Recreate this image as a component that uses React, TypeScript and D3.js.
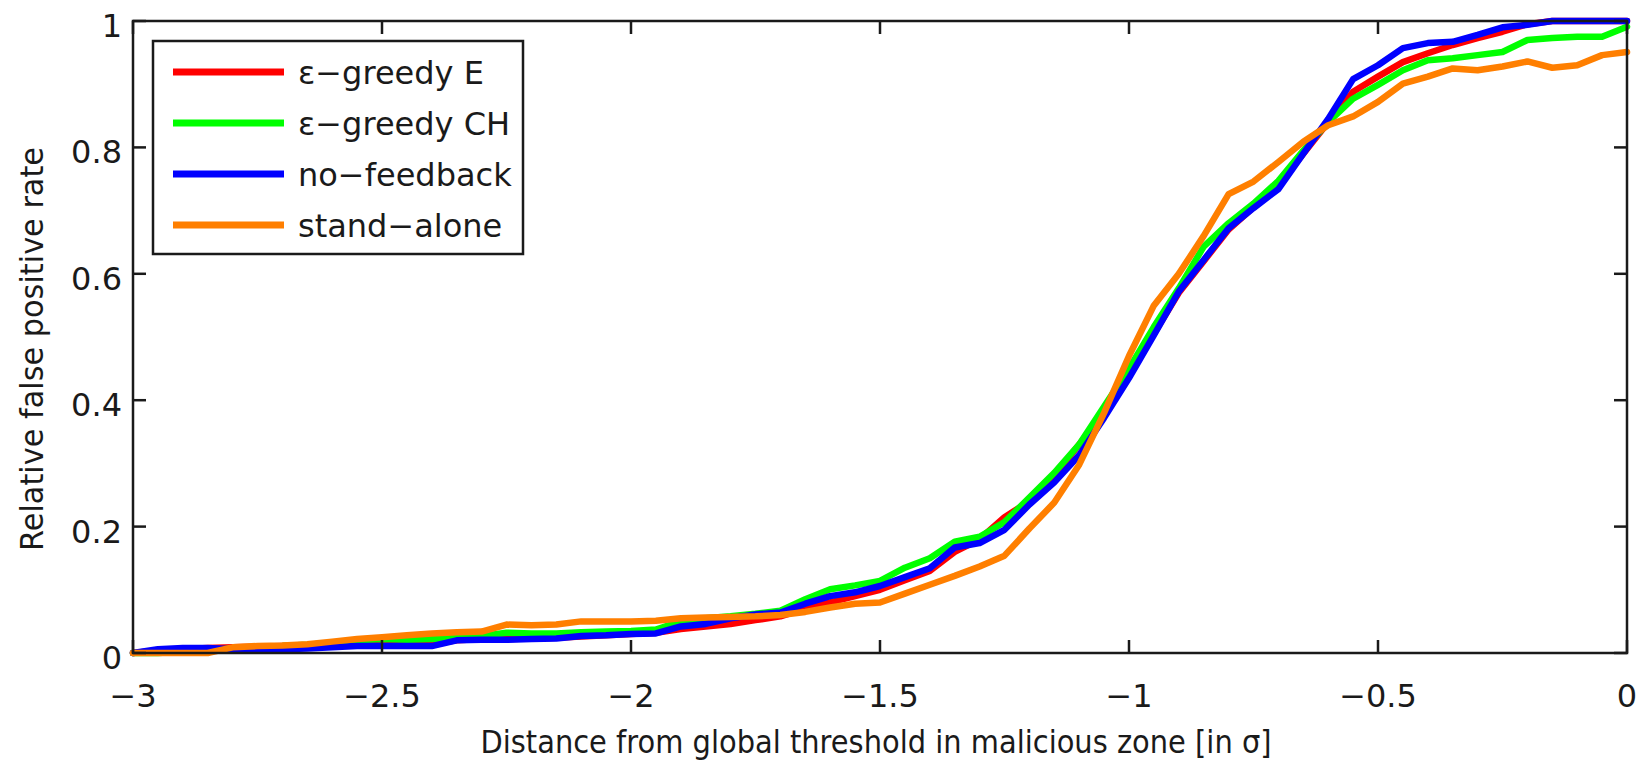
import * as d3 from "d3";

// x positions of the samples (distance in sigma)
const xs = [
  -3.0, -2.95, -2.9, -2.85, -2.8, -2.75, -2.7, -2.65, -2.6, -2.55,
  -2.5, -2.45, -2.4, -2.35, -2.3, -2.25, -2.2, -2.15, -2.1, -2.05,
  -2.0, -1.95, -1.9, -1.85, -1.8, -1.75, -1.7, -1.65, -1.6, -1.55,
  -1.5, -1.45, -1.4, -1.35, -1.3, -1.25, -1.2, -1.15, -1.1, -1.05,
  -1.0, -0.95, -0.9, -0.85, -0.8, -0.75, -0.7, -0.65, -0.6, -0.55,
  -0.5, -0.45, -0.4, -0.35, -0.3, -0.25, -0.2, -0.15, -0.1, -0.05,
  0,
];

const greedyE = [
  0, 0.004, 0.006, 0.008, 0.009, 0.01, 0.011, 0.011, 0.012, 0.013,
  0.013, 0.013, 0.014, 0.02, 0.022, 0.022, 0.023, 0.024, 0.026, 0.028,
  0.03, 0.032, 0.038, 0.042, 0.046, 0.052, 0.058, 0.07, 0.08, 0.09,
  0.1, 0.115, 0.13, 0.16, 0.18, 0.215, 0.24, 0.28, 0.33, 0.38,
  0.44, 0.505, 0.57, 0.62, 0.67, 0.705, 0.74, 0.79, 0.84, 0.888,
  0.912, 0.935, 0.949, 0.962, 0.973, 0.983, 0.995, 1, 1, 1,
  1,
];

const greedyCH = [
  0, 0, 0.002, 0.004, 0.007, 0.01, 0.011, 0.013, 0.016, 0.02,
  0.022, 0.021, 0.022, 0.025, 0.027, 0.032, 0.031, 0.031, 0.033, 0.034,
  0.035, 0.037, 0.05, 0.055, 0.058, 0.062, 0.067, 0.085, 0.101, 0.107,
  0.114, 0.135, 0.15, 0.176, 0.184, 0.207, 0.246, 0.285, 0.33, 0.39,
  0.45, 0.516, 0.577, 0.643, 0.68, 0.711, 0.747, 0.795, 0.84, 0.877,
  0.899, 0.922, 0.938, 0.941, 0.946, 0.951, 0.97, 0.973, 0.975, 0.975,
  0.991,
];

const noFeedback = [
  0, 0.006, 0.008, 0.008, 0.006, 0.005, 0.006, 0.007, 0.009, 0.011,
  0.011, 0.011, 0.011, 0.02, 0.021, 0.021, 0.022, 0.023, 0.027, 0.028,
  0.03, 0.031, 0.042, 0.046, 0.055, 0.061, 0.064, 0.078, 0.09, 0.096,
  0.106, 0.12, 0.134, 0.167, 0.174, 0.195, 0.235, 0.27, 0.313, 0.372,
  0.435, 0.503, 0.572, 0.622, 0.672, 0.704, 0.734, 0.79, 0.845, 0.908,
  0.93, 0.957, 0.965, 0.967, 0.978, 0.99, 0.994, 1, 1, 1,
  1,
];

const standAlone = [
  0, 0, 0, 0, 0.009, 0.011, 0.012, 0.014, 0.018, 0.022,
  0.025, 0.028, 0.031, 0.033, 0.034, 0.045, 0.044, 0.045, 0.05, 0.05,
  0.05, 0.051, 0.055, 0.056, 0.057, 0.058, 0.06, 0.065, 0.072, 0.078,
  0.08, 0.094, 0.108, 0.122, 0.137, 0.154, 0.197, 0.238, 0.298, 0.38,
  0.47, 0.55, 0.6, 0.66, 0.726, 0.746, 0.777, 0.809, 0.835, 0.849,
  0.872, 0.901, 0.912, 0.925, 0.922, 0.928, 0.936, 0.926, 0.93, 0.946,
  0.951,
];

const seriesNames = ["ε−greedy E", "ε−greedy CH", "no−feedback", "stand−alone"];
const seriesColors = ["#ff0000", "#00ff00", "#0000ff", "#ff7f00"];
const seriesValues = [greedyE, greedyCH, noFeedback, standAlone];

const xTicks = [-3, -2.5, -2, -1.5, -1, -0.5, 0];
const yTicks = [0, 0.2, 0.4, 0.6, 0.8, 1];

const xTitle = "Distance from global threshold in malicious zone [in σ]";
const yTitle = "Relative false positive rate";

const W = 1646;
const H = 761;
const left = 133, right = 1627, top = 21, bottom = 653;
const FONT = "'DejaVu Sans', Verdana, sans-serif";

export default function App() {
  const x = d3.scaleLinear().domain([-3, 0]).range([left, right]);
  const y = d3.scaleLinear().domain([0, 1]).range([bottom, top]);
  const fmt = d3.format("~g");

  const line = d3
    .line<number>()
    .x((_, i) => x(xs[i]))
    .y((d) => y(d));

  const tick = 13;
  const axisColor = "#1a1a1a";

  // legend layout
  const lgX = 153, lgY = 41, lgW = 370, lgH = 213;
  const rowY = (i: number) => 72 + i * 51;

  return (
    <svg
      width={W}
      height={H}
      style={{ position: "absolute", left: 0, top: 0, background: "#fff" }}
      fontFamily={FONT}
    >
      <rect x={0} y={0} width={W} height={H} fill="#fff" />

      {/* data lines */}
      <g fill="none" strokeWidth={6.5} strokeLinejoin="round" strokeLinecap="round">
        {seriesValues.map((vals, k) => (
          <path key={k} d={line(vals) || ""} stroke={seriesColors[k]} />
        ))}
      </g>

      {/* axes box and ticks */}
      <g stroke={axisColor} strokeWidth={2.5} fill="none">
        <rect x={left} y={top} width={right - left} height={bottom - top} />
        {xTicks.map((t) => (
          <g key={"xt" + t}>
            <line x1={x(t)} x2={x(t)} y1={bottom} y2={bottom - tick} />
            <line x1={x(t)} x2={x(t)} y1={top} y2={top + tick} />
          </g>
        ))}
        {yTicks.map((t) => (
          <g key={"yt" + t}>
            <line x1={left} x2={left + tick} y1={y(t)} y2={y(t)} />
            <line x1={right} x2={right - tick} y1={y(t)} y2={y(t)} />
          </g>
        ))}
      </g>

      {/* tick labels */}
      <g fontSize={32} fill="#1a1a1a">
        {xTicks.map((t) => (
          <text key={"xl" + t} x={x(t)} y={707} textAnchor="middle">
            {fmt(t)}
          </text>
        ))}
        {yTicks.map((t) => (
          <text key={"yl" + t} x={122} y={y(t) + 16} textAnchor="end">
            {fmt(t)}
          </text>
        ))}
      </g>

      {/* axis titles */}
      <text
        x={876}
        y={753}
        fontSize={32}
        textAnchor="middle"
        fill="#1a1a1a"
        textLength={791}
        lengthAdjust="spacingAndGlyphs"
      >
        {xTitle}
      </text>
      <text
        transform={`translate(43,349) rotate(-90)`}
        fontSize={32}
        textAnchor="middle"
        fill="#1a1a1a"
        textLength={404}
        lengthAdjust="spacingAndGlyphs"
      >
        {yTitle}
      </text>

      {/* legend */}
      <rect x={lgX} y={lgY} width={lgW} height={lgH} fill="#fff" stroke={axisColor} strokeWidth={2.5} />
      {seriesNames.map((name, i) => (
        <g key={name}>
          <line x1={173} x2={284} y1={rowY(i)} y2={rowY(i)} stroke={seriesColors[i]} strokeWidth={7} />
          <text x={298} y={rowY(i) + 12} fontSize={32} fill="#1a1a1a">
            {name}
          </text>
        </g>
      ))}
    </svg>
  );
}
